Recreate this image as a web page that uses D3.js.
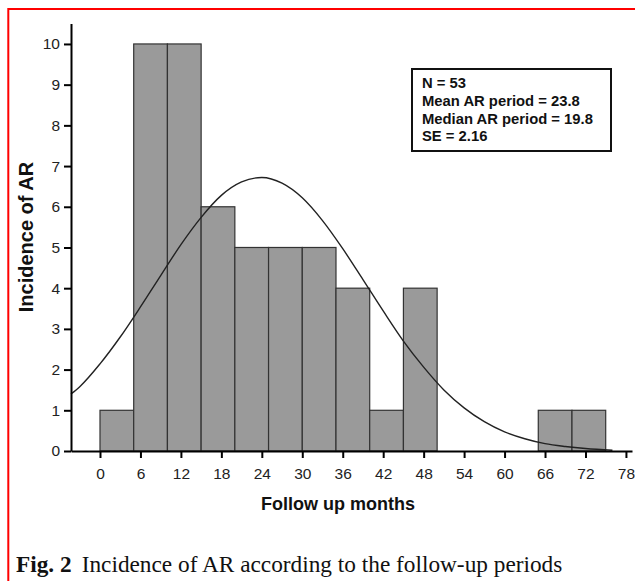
<!DOCTYPE html>
<html>
<head>
<meta charset="utf-8">
<script src="https://cdn.jsdelivr.net/npm/d3@7"></script>
<style>
  body { margin: 0; background: #fff; }
  svg { display: block; }
  .tick text { font-family: "Liberation Sans", Arial, sans-serif; font-size: 15.5px; fill: #222; }
</style>
</head>
<body>
<svg id="chart"></svg>
<script>
// histogram bins (5-month wide) and their counts
const binStarts = [0, 5, 10, 15, 20, 25, 30, 35, 40, 45, 50, 55, 60, 65, 70];
const binCounts = [1, 10, 10, 6, 5, 5, 5, 4, 1, 4, 0, 0, 0, 1, 1];
const binWidth = 5;

// fitted curve
const curveMonths = [-4.3, -3, 0, 3, 6, 9, 12, 15, 18, 21, 24, 27, 30, 33, 36, 39, 42, 45, 48, 51, 54, 57, 60, 63, 66, 69, 72, 76];
const curveValues = [1.40, 1.58, 2.14, 2.80, 3.54, 4.31, 5.07, 5.74, 6.28, 6.61, 6.72, 6.58, 6.22, 5.66, 4.97, 4.21, 3.44, 2.70, 2.06, 1.50, 1.06, 0.72, 0.47, 0.30, 0.18, 0.11, 0.06, 0.02];

const xTicks = [0, 6, 12, 18, 24, 30, 36, 42, 48, 54, 60, 66, 72, 78];
const yTicks = [0, 1, 2, 3, 4, 5, 6, 7, 8, 9, 10];

const statsLines = ['N = 53', 'Mean AR period = 23.8', 'Median AR period = 19.8', 'SE = 2.16'];
const caption = { bold: 'Fig. 2', text: 'Incidence of AR according to the follow-up periods' };

const width = 635;
const height = 581;
const sans = '"Liberation Sans", Arial, sans-serif';

const svg = d3.select('#chart')
    .attr('width', width)
    .attr('height', height);

svg.append('rect')
    .attr('width', width)
    .attr('height', height)
    .attr('fill', '#fff');

// red frame (only top and left edges fall inside the picture)
svg.append('rect')
    .attr('x', 8.3)
    .attr('y', 9)
    .attr('width', 700)
    .attr('height', 700)
    .attr('fill', 'none')
    .attr('stroke', '#ff0000')
    .attr('stroke-width', 2);

const xScale = d3.scaleLinear()
    .domain([-4.3, 78.9])
    .range([71, 632]);

const yScale = d3.scaleLinear()
    .domain([0, 10.5])
    .range([451, 23.6]);

// bars
svg.append('g')
    .selectAll('rect')
    .data(binStarts.map((s, i) => ({ start: s, count: binCounts[i] })).filter(d => d.count > 0))
    .join('rect')
    .attr('x', d => xScale(d.start))
    .attr('y', d => yScale(d.count))
    .attr('width', d => xScale(d.start + binWidth) - xScale(d.start))
    .attr('height', d => yScale(0) - yScale(d.count))
    .attr('fill', '#9a9a9a')
    .attr('stroke', '#333')
    .attr('stroke-width', 1.2);

// curve
const line = d3.line()
    .x((d, i) => xScale(curveMonths[i]))
    .y(d => yScale(d))
    .curve(d3.curveMonotoneX);

svg.append('path')
    .datum(curveValues)
    .attr('fill', 'none')
    .attr('stroke', '#222')
    .attr('stroke-width', 1.4)
    .attr('d', line);

// axes
const xAxis = d3.axisBottom(xScale)
    .tickValues(xTicks)
    .tickSize(7)
    .tickSizeOuter(0)
    .tickPadding(10);

const yAxis = d3.axisLeft(yScale)
    .tickValues(yTicks)
    .tickSize(7)
    .tickSizeOuter(0)
    .tickPadding(4);

const gx = svg.append('g')
    .attr('transform', `translate(0, ${yScale(0)})`)
    .call(xAxis);

const gy = svg.append('g')
    .attr('transform', `translate(${xScale.range()[0]}, 0)`)
    .call(yAxis);

[gx, gy].forEach(g => {
    g.select('.domain').attr('stroke', '#000').attr('stroke-width', 2);
    g.selectAll('.tick line').attr('stroke', '#000').attr('stroke-width', 2);
});

// axis titles
svg.append('text')
    .attr('x', 338)
    .attr('y', 510)
    .attr('text-anchor', 'middle')
    .attr('font-family', sans)
    .attr('font-weight', 'bold')
    .attr('font-size', '18px')
    .attr('fill', '#111')
    .text('Follow up months');

svg.append('text')
    .attr('transform', 'rotate(-90)')
    .attr('x', -237)
    .attr('y', 33)
    .attr('text-anchor', 'middle')
    .attr('font-family', sans)
    .attr('font-weight', 'bold')
    .attr('font-size', '20px')
    .attr('fill', '#111')
    .text('Incidence of AR');

// stats box
svg.append('rect')
    .attr('x', 412)
    .attr('y', 69)
    .attr('width', 199)
    .attr('height', 82)
    .attr('fill', '#fff')
    .attr('stroke', '#111')
    .attr('stroke-width', 2);

svg.append('g')
    .selectAll('text')
    .data(statsLines)
    .join('text')
    .attr('x', 422)
    .attr('y', (d, i) => 88 + i * 17.8)
    .attr('font-family', sans)
    .attr('font-weight', 'bold')
    .attr('font-size', '14.8px')
    .attr('fill', '#111')
    .text(d => d);

// caption
const cap = svg.append('text')
    .attr('x', 16)
    .attr('y', 572)
    .attr('font-family', '"Liberation Serif", "Times New Roman", serif')
    .attr('font-size', '23.3px')
    .attr('fill', '#111');

cap.append('tspan')
    .attr('font-weight', 'bold')
    .text(caption.bold);

cap.append('tspan')
    .attr('dx', 10)
    .text(caption.text);
</script>
</body>
</html>
